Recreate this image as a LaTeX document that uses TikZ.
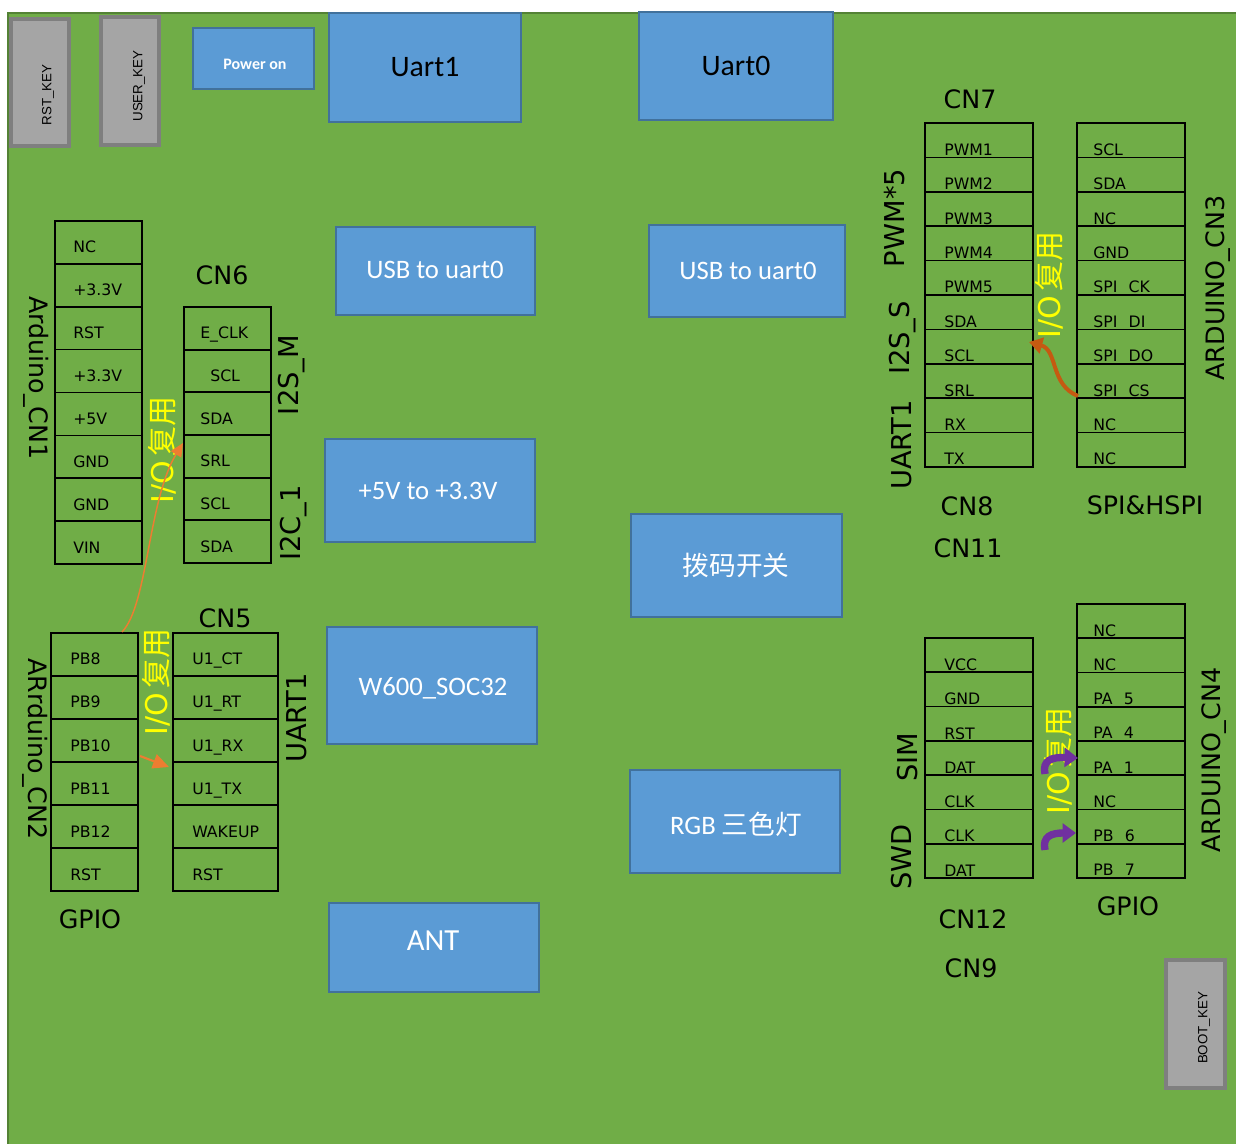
\documentclass[tikz,border=0pt]{standalone}
\usepackage{fontspec}
\setmainfont{DejaVu Sans}
\newfontfamily\calfont{Carlito}
\newfontfamily\cjkfont{Noto Sans CJK SC}
\newfontfamily\keyfont{Liberation Sans}
\usetikzlibrary{arrows.meta}
\definecolor{pcb}{HTML}{70AD47}
\definecolor{pcbedge}{HTML}{548235}
\definecolor{boxblue}{HTML}{5B9BD5}
\definecolor{boxedge}{HTML}{41719C}
\definecolor{keygray}{HTML}{A5A5A5}
\definecolor{keyedge}{HTML}{7F7F7F}
\definecolor{ioyellow}{HTML}{FFFF00}
\definecolor{arrorange}{HTML}{ED7D31}
\definecolor{arrdark}{HTML}{C55A11}
\definecolor{arrpurple}{HTML}{7030A0}
\newcommand\pxbox[7]{\node[#2, minimum width={0.75pt*(#5-#3)}, minimum height={0.75pt*(#6-#4)}] (#1) at ({(#3+#5)/2},{(#4+#6)/2}) {#7};}
\newcommand\pintable[8]{%
  \foreach \lab [count=\i] in {#8} {%
    \pgfmathsetmacro\ymid{#4+(\i-0.5)*#5}%
    \node[cell, minimum width={0.75pt*(#3-#2)}, minimum height={0.75pt*#5}] (#1-\i) at ({(#2+#3)/2},\ymid) {};%
    \node[pin] (#1-t\i) at (#6,{\ymid+#7}) {\lab};%
  }%
}
\begin{document}
\begin{tikzpicture}[x=0.75pt,y=-0.75pt,
  blk/.style={draw=boxedge, fill=boxblue, line width=2.2pt, inner sep=0pt},
  keybox/.style={draw=keyedge, fill=keygray, line width=2.8pt, inner sep=0pt},
  cell/.style={draw=black, line width=1.3pt, inner sep=0pt},
  pin/.style={font=\fontsize{11.8pt}{13pt}\selectfont, inner sep=0pt, anchor=base west},
  cn/.style={font=\fontsize{19pt}{22pt}\selectfont, inner sep=0pt},
  grp/.style={font=\fontsize{20.5pt}{24pt}\selectfont, inner sep=0pt, rotate=90},
  io/.style={font=\fontsize{22.5pt}{26pt}\selectfont, text=ioyellow, rotate=90, inner sep=0pt},
  keytxt/.style={font=\keyfont\fontsize{10pt}{12pt}\selectfont, rotate=90, inner sep=0pt},
  wtxt/.style={font=\calfont\fontsize{20pt}{24pt}\selectfont, text=white, inner sep=0pt},
  btxt/.style={font=\calfont\fontsize{22.3pt}{26pt}\selectfont, text=black, inner sep=0pt},
]
\useasboundingbox (0,0) rectangle (1236,1144);
\fill[white] (0,0) rectangle (1236,1144);
\fill[pcb] (8,13) rectangle (1236,1144);
\draw[pcbedge, line width=1.5pt] (8,1144) -- (8,13) -- (1236,13);

% keys
\pxbox{rst}{keybox}{11}{19}{69}{146}{}
\node[keytxt] (rstT) at (48,95) {RST\_KEY};
\pxbox{usr}{keybox}{101}{17}{159}{145}{}
\node[keytxt] (usrT) at (139,86) {USER\_KEY};
\pxbox{boot}{keybox}{1166}{960}{1225}{1088}{}
\node[keytxt] (bootT) at (1204,1028) {BOOT\_KEY};

% blue blocks
\pxbox{pwr}{blk}{193}{28}{314}{89}{}
\node[wtxt, font=\calfont\bfseries\fontsize{12pt}{14pt}\selectfont] (pwrT) at (255,64) {Power on};
\pxbox{u1}{blk}{329}{13}{521}{122}{}
\node[btxt] (u1T) at (425,67) {Uart1};
\pxbox{u0}{blk}{639}{12}{833}{120}{}
\node[btxt] (u0T) at (736,66) {Uart0};
\pxbox{usbL}{blk}{336}{227}{535}{315}{}
\node[wtxt] (usbLT) at (435,270) {USB to uart0};
\pxbox{usbR}{blk}{649}{225}{845}{317}{}
\node[wtxt] (usbRT) at (748,271) {USB to uart0};
\pxbox{ldo}{blk}{325}{439}{535}{542}{}
\node[wtxt] (ldoT) at (428,491) {+5V to +3.3V};
\pxbox{dip}{blk}{631}{514}{842}{617}{}
\node[wtxt, font=\cjkfont\fontsize{20pt}{24pt}\selectfont] (dipT) at (736,565) {拨码开关};
\pxbox{soc}{blk}{327}{627}{537}{744}{}
\node[wtxt] (socT) at (433,688) {W600\_SOC32};
\pxbox{rgb}{blk}{630}{770}{840}{873}{}
\node[wtxt] (rgbT) at (736,824) {RGB {\cjkfont 三色灯}};
\pxbox{ant}{blk}{329}{903}{539}{992}{}
\node[wtxt, font=\calfont\fontsize{23pt}{26pt}\selectfont] (antT) at (433,941) {ANT};

% pin tables
\pintable{cnA}{55}{142}{221}{42.875}{73}{10.5}{NC,+3.3V,RST,+3.3V,+5V,GND,GND,VIN}
\pintable{cnB}{184}{271}{307}{42.67}{200}{10.5}{E\_CLK,\hspace{7.5pt}SCL,SDA,SRL,SCL,SDA}
\pintable{cnC}{51}{138}{633}{43}{70}{10.5}{PB8,PB9,PB10,PB11,PB12,RST}
\pintable{cnD}{173}{278}{633}{43}{192}{10.5}{U1\_CT,U1\_RT,U1\_RX,U1\_TX,WAKEUP,RST}
\pintable{cnE}{925}{1033}{123}{34.4}{944}{15.2}{PWM1,PWM2,PWM3,PWM4,PWM5,SDA,SCL,SRL,RX,TX}
\pintable{cnF}{1077}{1185}{123}{34.4}{1093}{15.2}{SCL,SDA,NC,GND,SPI\hspace{8.5pt}CK,SPI\hspace{8.5pt}DI,SPI\hspace{8.5pt}DO,SPI\hspace{8.5pt}CS,NC,NC}
\pintable{cnG}{925}{1033}{638}{34.29}{944}{15.4}{VCC,GND,RST,DAT,CLK,CLK,DAT}
\pintable{cnH}{1077}{1185}{604}{34.25}{1093}{15}{NC,NC,PA\hspace{8.5pt}5,PA\hspace{8.5pt}4,PA\hspace{8.5pt}1,NC,PB\hspace{8.5pt}6,PB\hspace{8.5pt}7}

% connector labels
\node[cn] (cn6L) at (222,275) {CN6};
\node[cn] (cn5L) at (225,618) {CN5};
\node[cn] (gpioL) at (90,919) {GPIO};
\node[cn] (cn7L) at (970,99) {CN7};
\node[cn] (cn8L) at (967,506) {CN8};
\node[cn] (spiL) at (1145,505) {SPI\&HSPI};
\node[cn] (cn11L) at (968,548) {CN11};
\node[cn] (cn12L) at (973,919) {CN12};
\node[cn] (cn9L) at (971,968) {CN9};
\node[cn] (gpioR) at (1128,906) {GPIO};
\node[cn, rotate=-90] (ardu1) at (36,378) {Arduino\_CN1};
\node[cn, rotate=-90] (ardu2) at (35,749) {ARrduino\_CN2};
\node[grp] (i2sm) at (292,375) {I2S\_M};
\node[grp] (i2c1) at (294,523) {I2C\_1};
\node[grp] (uart1L) at (297,718) {UART1};
\node[grp] (pwm5) at (895,218) {PWM*5};
\node[grp] (i2ss) at (903,338) {I2S\_S};
\node[grp] (uart1R) at (902,445) {UART1};
\node[cn, rotate=90] (ardu3) at (1218,288) {ARDUINO\_CN3};
\node[grp] (sim) at (908,757) {SIM};
\node[grp] (swd) at (902,857) {SWD};
\node[cn, rotate=90] (ardu4) at (1214,760) {ARDUINO\_CN4};

% I/O multiplex labels
\node[io] (ioA) at (162,450) {I/O\,{\cjkfont 复用}};
\node[io] (ioB) at (156,682) {I/O\,{\cjkfont 复用}};
\node[io] (ioC) at (1049,285) {I/O\,{\cjkfont 复用}};
\node[io] (ioD) at (1058,761) {I/O\,{\cjkfont 复用}};

% arrows
\coordinate (oa1) at (122,632);
\coordinate (ob1) at (183,443);
\draw[arrorange, line width=1.1pt, -{Triangle[length=10pt,width=9pt]}] (oa1) .. controls (148,605) and (148,500) .. (ob1);
\coordinate (oa2) at (140,756);
\coordinate (ob2) at (169,767);
\draw[arrorange, line width=1.6pt, -{Triangle[length=12pt,width=11pt]}] (oa2) -- (ob2);
\coordinate (oa3) at (1078,396);
\coordinate (ob3) at (1029,342);
\draw[arrdark, line width=3pt, -{Triangle[length=10pt,width=12pt]}] (oa3) .. controls (1050,385) and (1058,350) .. (ob3);
\coordinate (pa1) at (1045,774);
\coordinate (pb1) at (1078,758);
\draw[arrpurple, line width=5.5pt, -{Triangle[length=10pt,width=14pt]}] (pa1) .. controls (1042,760) and (1052,757) .. (pb1);
\coordinate (pa2) at (1045,850);
\coordinate (pb2) at (1076,833);
\draw[arrpurple, line width=5.5pt, -{Triangle[length=10pt,width=14pt]}] (pa2) .. controls (1042,836) and (1052,833) .. (pb2);
\end{tikzpicture}
\end{document}
